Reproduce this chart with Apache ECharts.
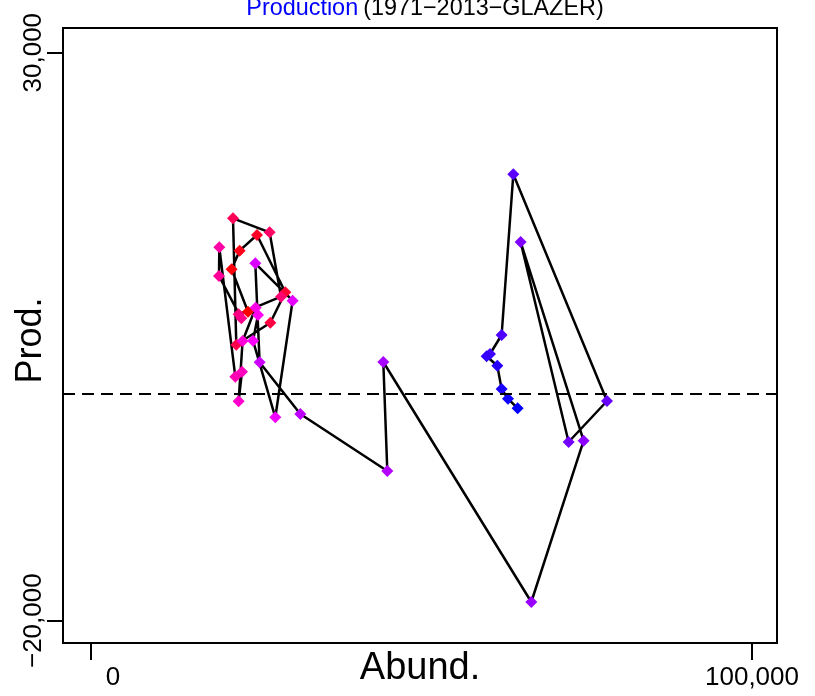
<!DOCTYPE html>
<html>
<head>
<meta charset="utf-8">
<script src="https://cdn.jsdelivr.net/npm/echarts@6/dist/echarts.min.js"></script>
<style>
  html, body { margin: 0; padding: 0; background: #fff; }
  #chart { width: 815px; height: 696px; }
</style>
</head>
<body>
<div id="chart"></div>
<script>
// Abundance (x) and production (y), in time order 1971 -> 2013
const abund = [23752, 21271, 22482, 25114, 29396, 27126, 21982, 21483, 27020, 28745,
               22330, 22739, 19365, 19410, 21831, 22845, 22330, 22936, 24902, 25265,
               24509, 27883, 30500, 24857, 25507, 31665, 44827, 44222, 66613, 74526,
               64994, 72256, 78066, 63890, 62120, 60365, 59850, 61469, 62120, 63088,
               64540];
const prod = [7201, 10933, 12571, 13953, 8909, 6232, 4296, 15423, 14190, 8521,
              6972, 6620, 10344, 12870, 1479, 1919, -687, 4622, 7553, 6910,
              4648, -2095, 8169, 11461, 2747, -1805, -6822, 2773, -18354, -4155,
              13337, -4269, -660, 19296, 5150, 3477, 3275, 2447, 396, -458,
              -1303];
const xTicks = [0, 100000];
const yTicks = [-20000, 30000];
const titleMain = 'Production';
const titleRest = '(1971\u22122013\u2212GLAZER)';

const pts = abund.map((a, i) => [a, prod[i], i]);
const fmt = v => (v < 0 ? '\u2212' : '') + Math.abs(v).toLocaleString('en-US');
const FONT = 'Liberation Sans, Arial, sans-serif';

const chart = echarts.init(document.getElementById('chart'), null, { renderer: 'canvas' });
chart.setOption({
  animation: false,
  backgroundColor: '#fff',
  title: {
    text: '{b|' + titleMain + '} {k|' + titleRest + '}',
    left: 420,
    textAlign: 'center',
    top: -8,
    textStyle: {
      fontWeight: 'normal',
      rich: {
        b: { color: '#0000FF', fontSize: 23.4, fontFamily: FONT, fontWeight: 'normal' },
        k: { color: '#000', fontSize: 23.4, fontFamily: FONT, fontWeight: 'normal' }
      }
    }
  },
  grid: {
    left: 63, right: 38, top: 28, bottom: 53,
    containLabel: false, outerBoundsMode: 'none',
    show: true, borderColor: '#000', borderWidth: 2, backgroundColor: 'transparent'
  },
  xAxis: {
    type: 'value', min: -4236, max: 103782,
    name: 'Abund.', nameLocation: 'middle', nameGap: 7, nameMoveOverlap: false,
    nameTextStyle: { fontSize: 38, color: '#000', fontFamily: FONT },
    axisLine: { show: false, onZero: false },
    splitLine: { show: false },
    axisTick: { show: true, customValues: xTicks, length: 17, lineStyle: { color: '#000', width: 2 } },
    axisLabel: {
      customValues: xTicks, margin: 22, color: '#000', fontSize: 26, fontFamily: FONT,
      formatter: v => v === 0 ? '{z|0}' : '{n|' + fmt(v) + '}',
      rich: {
        z: { fontSize: 26, fontFamily: FONT, color: '#000', padding: [0, 0, 0, 44] },
        n: { fontSize: 26, fontFamily: FONT, color: '#000' }
      }
    }
  },
  yAxis: {
    type: 'value', min: -21963, max: 32174,
    name: 'Prod.', nameLocation: 'middle', nameGap: 14, nameRotate: 90, nameMoveOverlap: false,
    nameTextStyle: { fontSize: 36, color: '#000', fontFamily: FONT, padding: [0, 10, 0, 0] },
    axisLine: { show: false, onZero: false },
    splitLine: { show: false },
    axisTick: { show: true, customValues: yTicks, length: 16, lineStyle: { color: '#000', width: 2 } },
    axisLabel: {
      customValues: yTicks, rotate: 90, margin: 16, color: '#000', fontSize: 26, fontFamily: FONT,
      formatter: v => fmt(v)
    }
  },
  visualMap: {
    show: false, type: 'continuous', dimension: 2, min: 0, max: abund.length - 1,
    seriesIndex: 1,
    inRange: { color: ['#FF0000', '#FF00FF', '#0000FF'] }
  },
  series: [
    {
      type: 'line', data: pts, showSymbol: false, symbol: 'none',
      lineStyle: { color: '#000', width: 2.5 }, z: 2,
      markLine: {
        silent: true, symbol: 'none', label: { show: false },
        lineStyle: { color: '#000', width: 2, type: [12, 7] },
        data: [{ yAxis: 0 }]
      }
    },
    {
      type: 'scatter', data: pts, symbol: 'diamond', symbolSize: 12, z: 3,
      itemStyle: { opacity: 1 }
    }
  ]
});
</script>
</body>
</html>
